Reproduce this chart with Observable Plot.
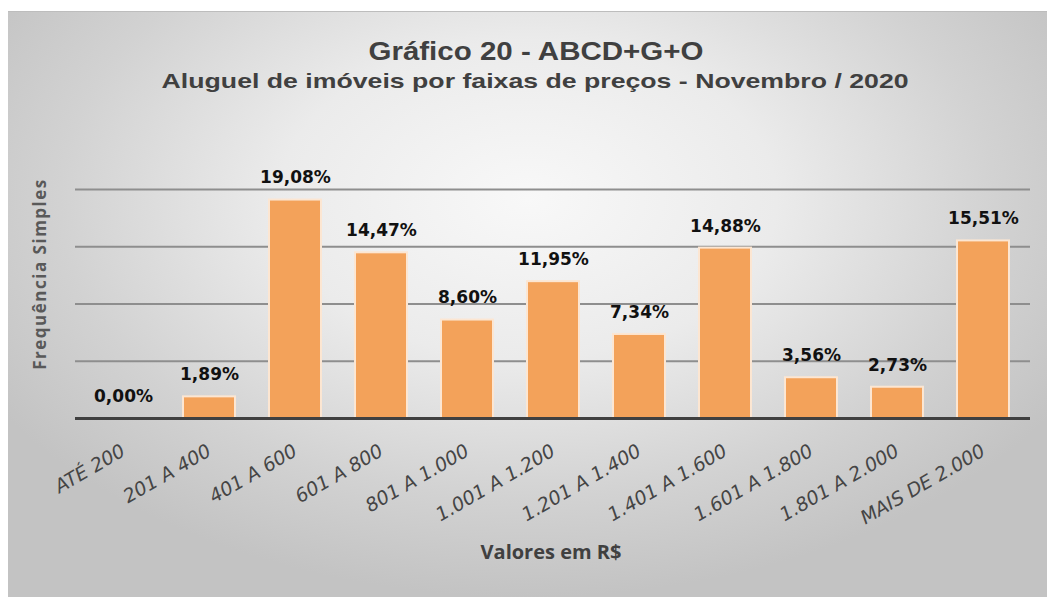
<!DOCTYPE html>
<html>
<head>
<meta charset="utf-8">
<script src="https://cdn.jsdelivr.net/npm/d3@7"></script>
<script src="https://cdn.jsdelivr.net/npm/@observablehq/plot@0.6"></script>
<style>
  html, body { margin: 0; padding: 0; background: #ffffff; width: 1047px; height: 597px; overflow: hidden; }
  #frame {
    position: absolute; left: 8px; top: 11px; width: 1039px; height: 586px;
    background: radial-gradient(ellipse 60% 68% at 50% 32%, #f8f8f8 0%, #ebebeb 40%, #d2d2d2 75%, #c3c3c3 100%);
    border-top: 1px solid #bdbdbd;
    box-sizing: border-box;
  }
  .t { position: absolute; left: 0; width: 1039px; text-align: center; color: #404040; line-height: 1; }
  .t span { display: inline-block; transform-origin: center; white-space: nowrap; }
  #title { top: 25px; font: bold 25px "Liberation Sans", Arial, sans-serif; }
  #title span { transform: scaleX(1.18); margin-left: 16px; }
  #subtitle { top: 57px; font: bold 21px "Liberation Sans", Arial, sans-serif; }
  #subtitle span { transform: scaleX(1.27); margin-left: 16px; }
  #ylabel { position: absolute; left: 31px; top: 262px; transform: translate(-50%, -50%) rotate(-90deg);
    font: bold 17px "Open Sans", sans-serif; letter-spacing: 1.5px; color: #595959; white-space: nowrap; }
  #xlabel { position: absolute; left: 543px; top: 530px; transform: translateX(-50%);
    font: bold 20px "Open Sans", sans-serif; color: #404040; white-space: nowrap; line-height: 1; }
  #chart { position: absolute; left: 0; top: 0; }
  g[aria-label="ticks"] text { letter-spacing: 0.5px; }
</style>
</head>
<body>
<div id="frame">
  <div id="chart"></div>
  <div class="t" id="title"><span>Gráfico 20 - ABCD+G+O</span></div>
  <div class="t" id="subtitle"><span>Aluguel de imóveis por faixas de preços - Novembro / 2020</span></div>
  <div id="ylabel">Frequência Simples</div>
  <div id="xlabel">Valores em R$</div>
</div>
<script>
const categories = ["ATÉ 200", "201 A 400", "401 A 600", "601 A 800", "801 A 1.000", "1.001 A 1.200", "1.201 A 1.400", "1.401 A 1.600", "1.601 A 1.800", "1.801 A 2.000", "MAIS DE 2.000"];
const values = [0.00, 1.89, 19.08, 14.47, 8.60, 11.95, 7.34, 14.88, 3.56, 2.73, 15.51];
const gridTicks = [5, 10, 15, 20];

const data = categories.map((c, i) => ({cat: c, value: values[i], label: values[i].toFixed(2).replace(".", ",") + "%"}));

const chart = Plot.plot({
  width: 1039,
  height: 586,
  marginTop: 177,
  marginBottom: 180,
  marginLeft: 67,
  marginRight: 17,
  style: {background: "transparent", overflow: "visible"},
  x: {domain: categories, paddingInner: 0.4, paddingOuter: 0.2, axis: null},
  y: {domain: [0, 20], axis: null},
  marks: [
    Plot.ruleY(gridTicks, {stroke: "#8e8e8e", strokeWidth: 2}),
    Plot.barY(data, {x: "cat", y: "value", fill: "#F3A25A", stroke: "#FCE6D2", strokeWidth: 2}),
    Plot.ruleY([0], {stroke: "#404040", strokeWidth: 3}),
    Plot.text(data, {x: "cat", y: "value", text: "label", dy: -22, lineAnchor: "middle",
      fontSize: 17, fontWeight: "bold", fontFamily: "DejaVu Sans", fill: "#111111"}),
    Plot.text(categories, {x: d => d, frameAnchor: "bottom", dy: 31, rotate: -30, textAnchor: "end",
      lineAnchor: "middle", fontSize: 19, fontStyle: "italic", fontFamily: "DejaVu Sans", fill: "#454545",
      ariaLabel: "ticks"})
  ]
});
document.getElementById("chart").appendChild(chart);
</script>
</body>
</html>
